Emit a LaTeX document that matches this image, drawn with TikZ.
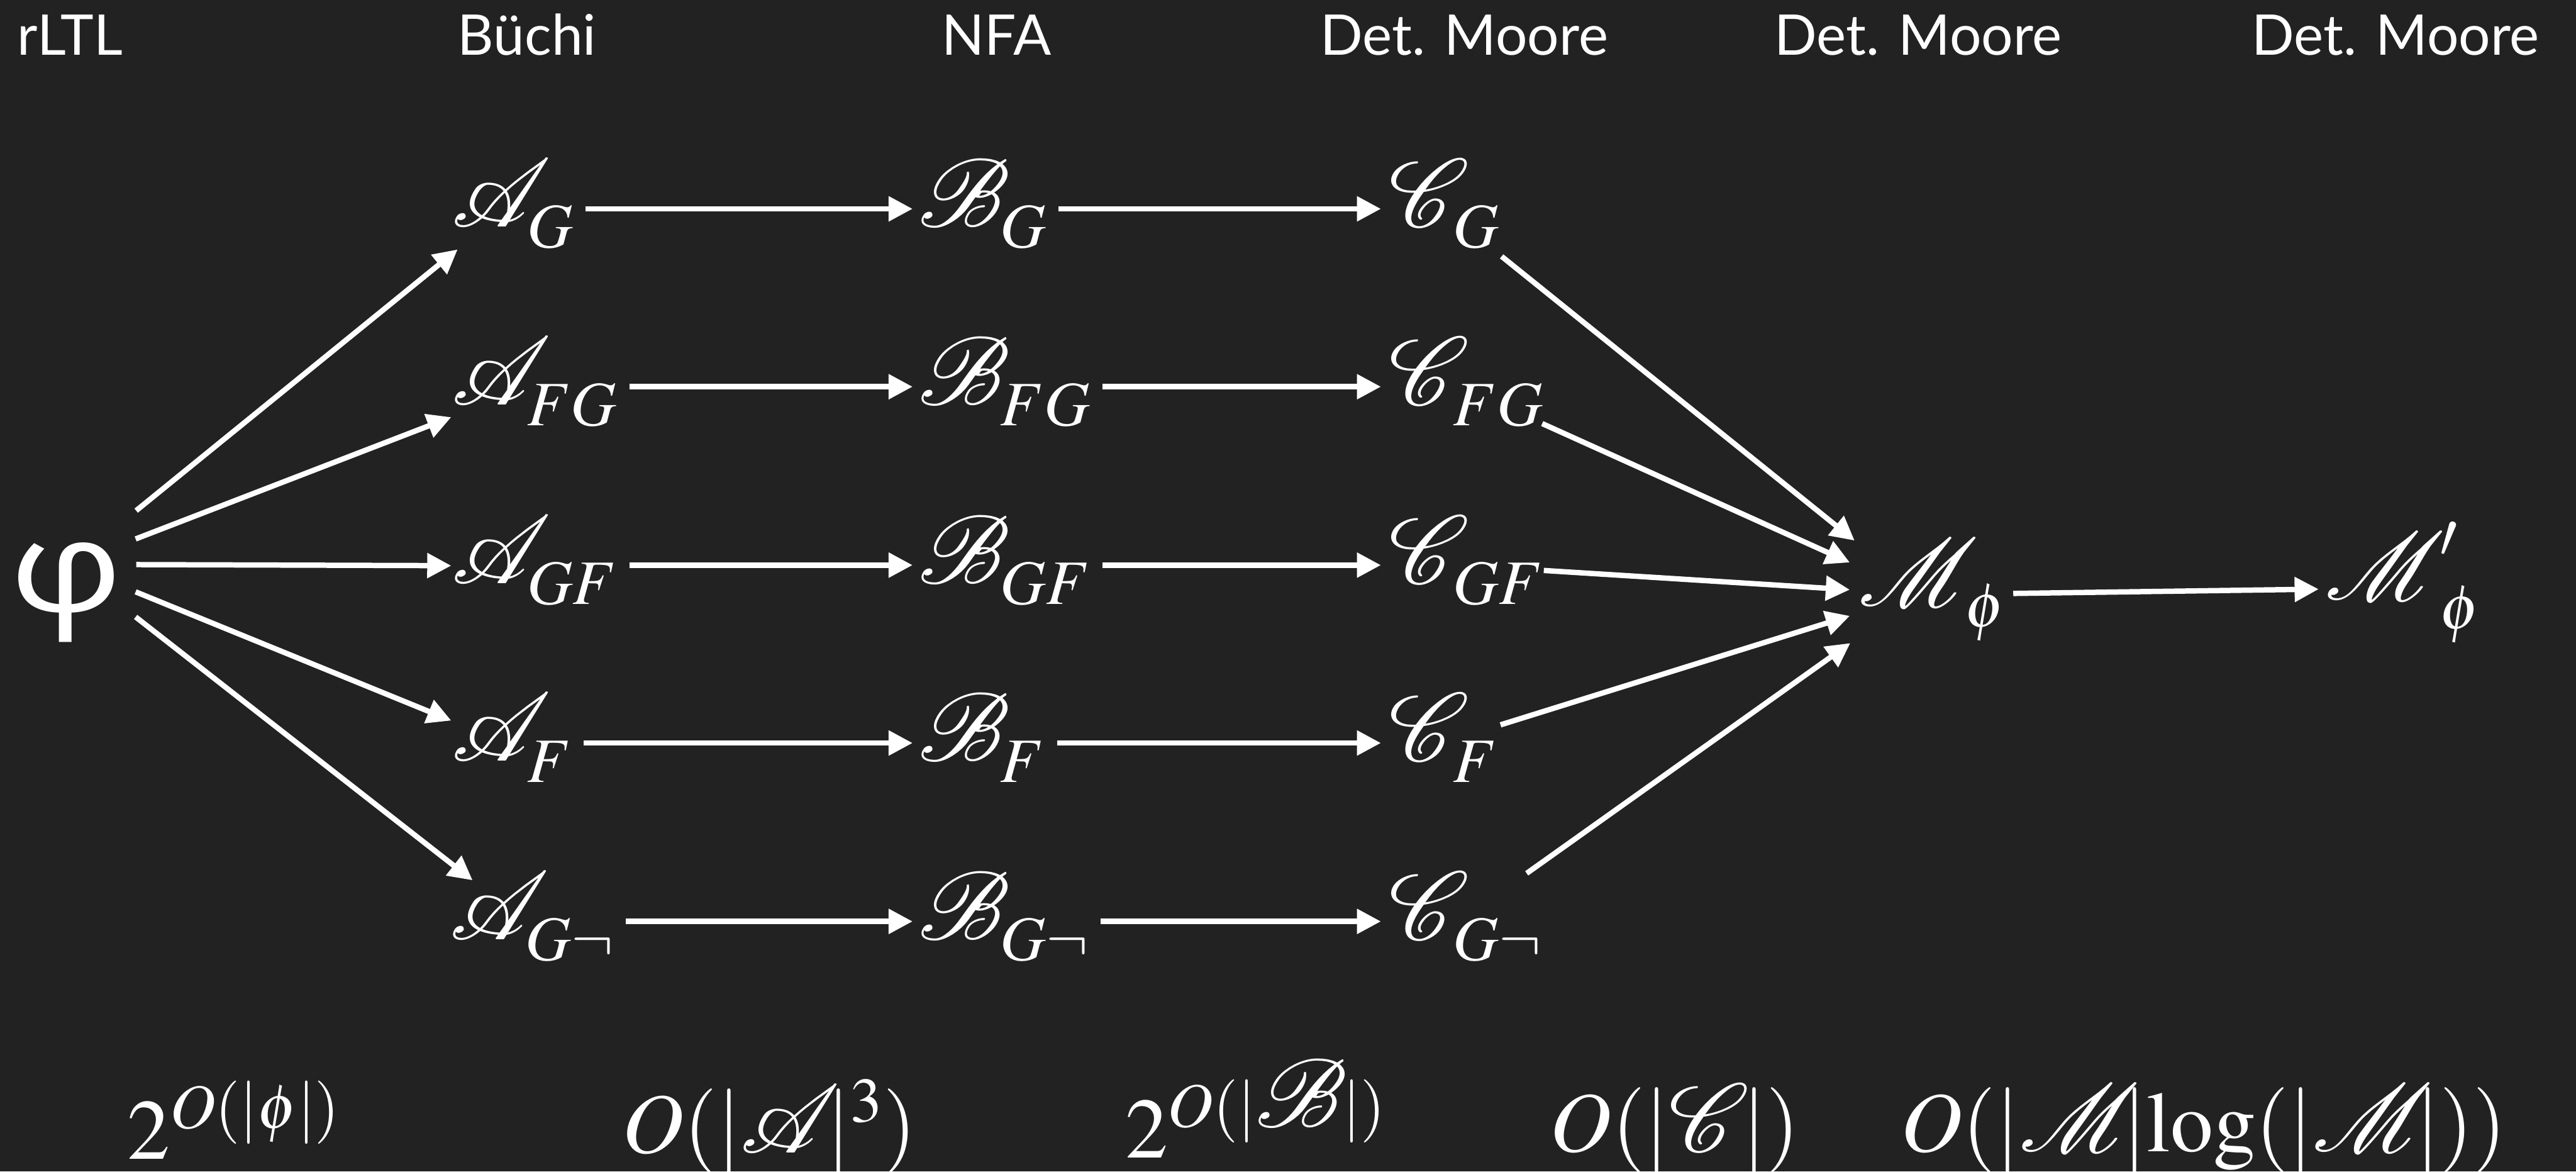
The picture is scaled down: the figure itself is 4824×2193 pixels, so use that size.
\documentclass[tikz,border=0pt]{standalone}
\usepackage{mathptmx}
\usepackage{mathrsfs}
\usepackage{graphicx}
\usepackage[no-math]{fontspec}
\setmainfont{Lato}
\newfontfamily\phifont{Open Sans}
\usetikzlibrary{arrows.meta}
\definecolor{bg}{HTML}{222222}
\newcommand\lsub[1]{_{\lower 3pt\hbox{$\scriptstyle #1$}}}
\newcommand\bscr[2]{\mathord{\scalebox{1.45}{$\mathscr{#1}$}\kern#2}}
% letters followed by a subscript
\newcommand\sA{\bscr{A}{-9pt}}
\newcommand\sB{\bscr{B}{-3.5pt}}
\newcommand\sC{\bscr{C}{-6pt}}
\newcommand\sM{\bscr{M}{-5pt}}
\newcommand\pM{\bscr{M}{-2pt}}
% letters followed by a bar
\newcommand\cA{\bscr{A}{-5pt}}
\newcommand\cB{\bscr{B}{-1.5pt}}
\newcommand\cC{\bscr{C}{-2.5pt}}
\newcommand\cM{\bscr{M}{-6pt}}
\tikzset{
  arr/.style={draw=white, line width=2pt, -{Triangle[length=9pt,width=9pt]}},
  mnode/.style={text=white, inner sep=0pt, anchor=base west, font=\fontsize{32}{38}\selectfont},
  head/.style={text=white, inner sep=0pt, anchor=base, font=\fontsize{21}{25}\selectfont},
  cost/.style={text=white, inner sep=0pt, anchor=base west, font=\fontsize{32}{38}\selectfont},
}
\begin{document}
\begin{tikzpicture}[x=0.2pt,y=-0.2pt]
\useasboundingbox (0,0) rectangle (4824,2193);
\fill[bg] (0,0) rectangle (4824,2193);
% headers
\node[head] (h1) at (131,103) {rLTL};
\node[head] (h2) at (987,103) {Büchi};
\node[head] (h3) at (1866,103) {NFA};
\node[head] (h4) at (2742,103) {Det. Moore};
\node[head] (h5) at (3592,103) {Det. Moore};
\node[head] (h6) at (4486,103) {Det. Moore};
% phi
\node[text=white, inner sep=0pt, anchor=base, font=\phifont\fontsize{50}{60}\selectfont] (phi) at (124,1145) {\scalebox{1.18}[0.95]{φ}};
% A column
\node[mnode] (AG)  at (845,425)  {$\sA\lsub{G}$};
\node[mnode] (AFG) at (845,758)  {$\sA\lsub{FG}$};
\node[mnode] (AGF) at (845,1092) {$\sA\lsub{GF}$};
\node[mnode] (AF)  at (845,1425) {$\sA\lsub{F}$};
\node[mnode] (AN)  at (842,1759) {$\sA\lsub{G\neg}$};
% B column
\node[mnode] (BG)  at (1719,425)  {$\sB\lsub{G}$};
\node[mnode] (BFG) at (1719,758)  {$\sB\lsub{FG}$};
\node[mnode] (BGF) at (1719,1092) {$\sB\lsub{GF}$};
\node[mnode] (BF)  at (1719,1425) {$\sB\lsub{F}$};
\node[mnode] (BN)  at (1719,1759) {$\sB\lsub{G\neg}$};
% C column
\node[mnode] (CG)  at (2600,425)  {$\sC\lsub{G}$};
\node[mnode] (CFG) at (2600,758)  {$\sC\lsub{FG}$};
\node[mnode] (CGF) at (2600,1092) {$\sC\lsub{GF}$};
\node[mnode] (CF)  at (2600,1425) {$\sC\lsub{F}$};
\node[mnode] (CN)  at (2600,1759) {$\sC\lsub{G\neg}$};
% M nodes
\node[mnode] (M)  at (3480,1135) {$\sM\lsub{\phi}$};
\node[mnode] (Mp) at (4354,1123) {$\pM^{\prime}\lsub{\phi}$};
% costs
\node[cost] (c1) at (237,2170)  {$2^{O(|\phi|)}$};
\node[cost] (c2) at (1164,2158) {$O(|\cA|^3)$};
\node[cost] (c3) at (2106,2168) {$2^{O(|\cB|)}$};
\node[cost] (c4) at (2902,2156) {$O(|\cC|)$};
\node[cost] (c5) at (3559,2156) {$O(|\cM|\mathrm{log}(|\cM|))$};
% phi -> A
\draw[arr] ([shift={(131,-189)}]phi.base) -- ([shift={(12,42)}]AG.base west);
\draw[arr] ([shift={(130,-136)}]phi.base) -- ([shift={(0,23)}]AFG.base west);
\draw[arr] ([shift={(131,-88)}]phi.base)  -- ([shift={(0,-33)}]AGF.base west);
\draw[arr] ([shift={(130,-37)}]phi.base)  -- ([shift={(0,-76)}]AF.base west);
\draw[arr] ([shift={(130,10)}]phi.base)   -- ([shift={(43,-111)}]AN.base west);
% A -> B -> C
\foreach \r in {G,FG,GF,F,N}{
  \draw[arr] ([shift={(20,-34)}]A\r.base east) -- ([shift={(-10,-34)}]B\r.base west);
  \draw[arr] ([shift={(20,-34)}]B\r.base east) -- ([shift={(-14,-34)}]C\r.base west);
}
% C -> M
\draw[arr] ([shift={(212,55)}]CG.base west)   -- ([shift={(-7,-123)}]M.base west);
\draw[arr] ([shift={(288,35)}]CFG.base west)  -- ([shift={(-16,-82)}]M.base west);
\draw[arr] ([shift={(291,-24)}]CGF.base west) -- ([shift={(-16,-31)}]M.base west);
\draw[arr] ([shift={(210,-68)}]CF.base west)  -- ([shift={(-16,18)}]M.base west);
\draw[arr] ([shift={(259,-124)}]CN.base west) -- ([shift={(-15,69)}]M.base west);
% M -> M'
\draw[arr] ([shift={(12,-24)}]M.base east) -- ([shift={(-12,-20)}]Mp.base west);
\end{tikzpicture}
\end{document}
